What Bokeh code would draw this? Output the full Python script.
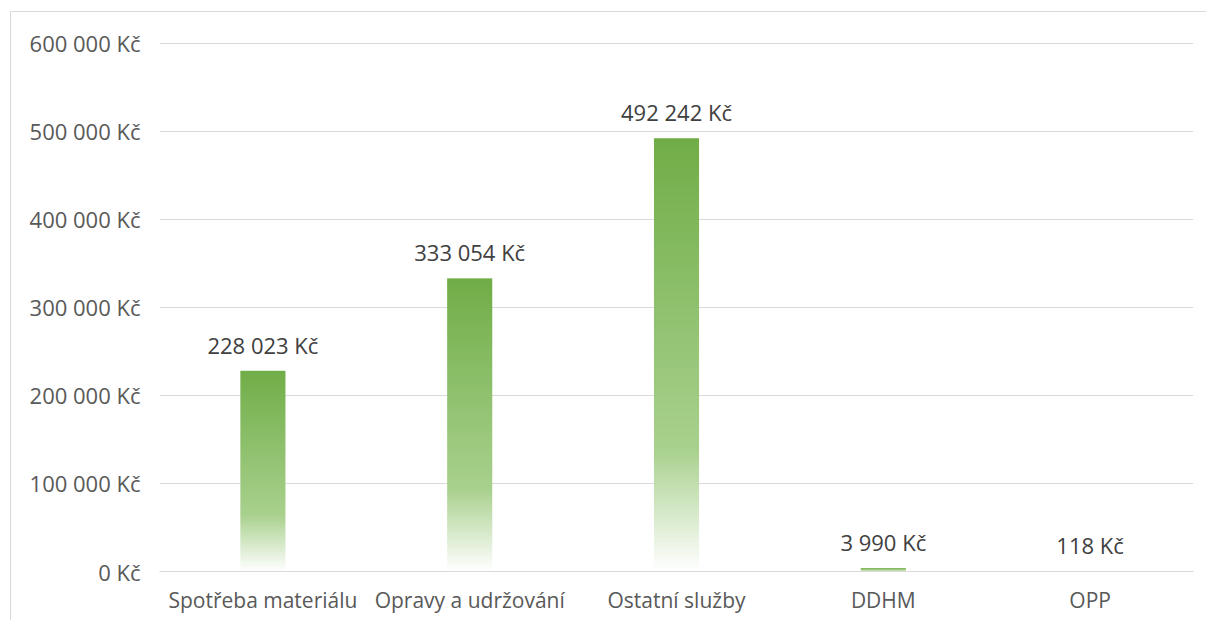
import numpy as np
from bokeh.plotting import figure
from bokeh.models import FixedTicker, Range1d, ColumnDataSource
from bokeh.core.properties import value
from bokeh.embed import file_html
from bokeh.resources import INLINE

# ---- data ----
categories = ["Spotřeba materiálu", "Opravy a udržování", "Ostatní služby", "DDHM", "OPP"]
amounts = [228023, 333054, 492242, 3990, 118]
y_ticks = [0, 100000, 200000, 300000, 400000, 500000, 600000]
y_tick_labels = ["0 Kč", "100 000 Kč", "200 000 Kč", "300 000 Kč", "400 000 Kč", "500 000 Kč", "600 000 Kč"]

def fmt(v):
    return f"{v:,}".replace(",", " ") + " Kč"

FONT = "Open Sans"

# page offset of chart border (10, 11); frame at x 159..1193, y 42..571
p = figure(frame_width=1034, frame_height=529,
           min_border_left=148, min_border_right=13, min_border_top=30, min_border_bottom=49,
           output_backend="svg", toolbar_location=None,
           x_range=Range1d(0, len(categories)), y_range=Range1d(0, 601000),
           margin=(11, 0, 0, 10),
           styles={"border-left": "1px solid #D9D9D9", "border-top": "1px solid #D9D9D9"})
p.outline_line_color = None
p.background_fill_color = "white"
p.border_fill_color = "white"

# gradient bars
N = 256
stops = [(0.0, (112, 173, 71)), (0.72, (169, 209, 142)), (1.0, (255, 255, 255))]
def grad_color(t):
    for (t0, c0), (t1, c1) in zip(stops[:-1], stops[1:]):
        if t0 <= t <= t1:
            f = (t - t0) / (t1 - t0)
            return tuple(int(round(a + (b - a) * f)) for a, b in zip(c0, c1))
    return stops[-1][1]

img = np.empty((N, 1), dtype=np.uint32)
view = img.view(dtype=np.uint8).reshape((N, 1, 4))
for r in range(N):
    t = 1 - r / (N - 1)  # row 0 is bottom
    c = grad_color(t)
    view[r, 0, 0] = c[0]
    view[r, 0, 1] = c[1]
    view[r, 0, 2] = c[2]
    view[r, 0, 3] = 255

bw = 0.218
centers = [i + 0.5 for i in range(len(categories))]
p.image_rgba(image=[img] * len(amounts), x=[c - bw / 2 for c in centers], y=[0] * len(amounts),
             dw=[bw] * len(amounts), dh=amounts)

# data labels
src = ColumnDataSource(dict(x=centers, y=amounts, t=[fmt(v) for v in amounts]))
p.text(x="x", y="y", text="t", source=src, text_align="center", text_baseline="bottom",
       y_offset=-11, text_font=value(FONT), text_font_size="22px", text_color="#404040")

# axes
p.yaxis.ticker = FixedTicker(ticks=y_ticks)
p.yaxis.major_label_overrides = {t: l for t, l in zip(y_ticks, y_tick_labels)}
p.yaxis.axis_line_color = None
p.yaxis.major_tick_line_color = None
p.yaxis.minor_tick_line_color = None
p.yaxis.major_label_standoff = 13
p.yaxis.major_label_text_font = FONT
p.yaxis.major_label_text_font_size = "22px"
p.yaxis.major_label_text_color = "#595959"

p.xaxis.ticker = FixedTicker(ticks=centers)
p.xaxis.major_label_overrides = {c: n for c, n in zip(centers, categories)}
p.xaxis.axis_line_color = "#D9D9D9"
p.xaxis.axis_line_width = 1
p.xaxis.major_tick_line_color = None
p.xaxis.minor_tick_line_color = None
p.xaxis.major_label_standoff = 8
p.xaxis.major_label_text_font = FONT
p.xaxis.major_label_text_font_size = "21px"
p.xaxis.major_label_text_color = "#595959"

p.xgrid.grid_line_color = None
p.ygrid.grid_line_color = "#D9D9D9"
p.ygrid.grid_line_width = 1

open("out.html", "w").write(file_html(p, INLINE))
